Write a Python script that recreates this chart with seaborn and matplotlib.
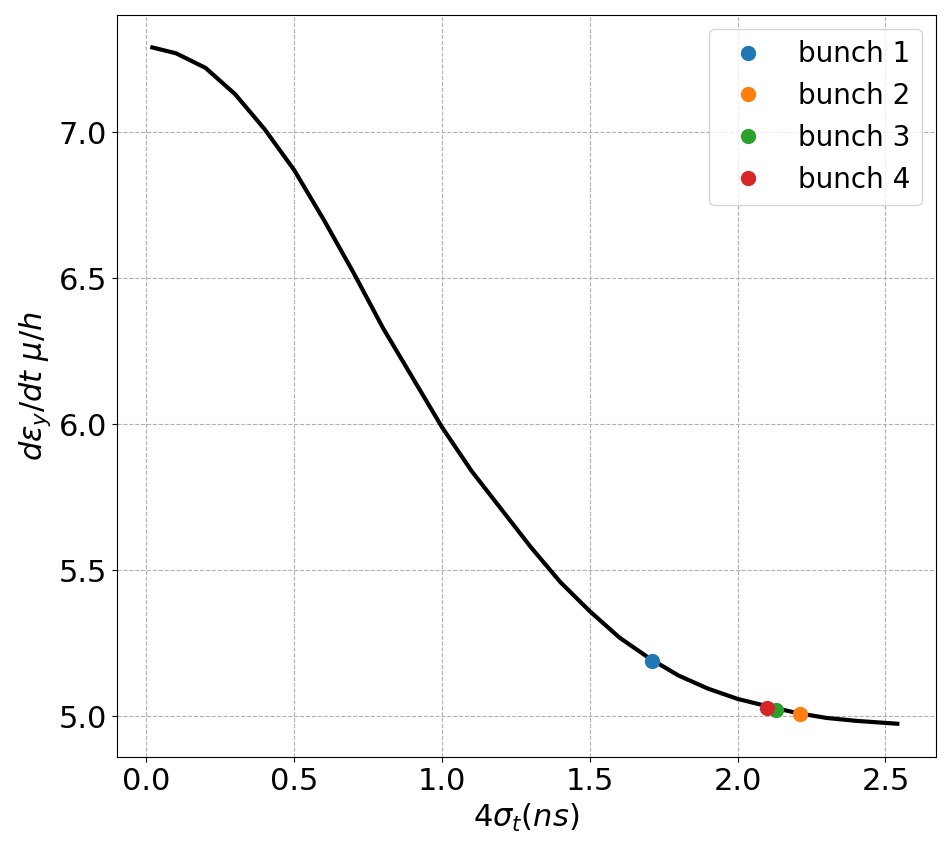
import matplotlib
matplotlib.use("Agg")
import matplotlib.pyplot as plt
import numpy as np
import pandas as pd
import seaborn as sns

# Curve
curve_x = [0.02, 0.1, 0.2, 0.3, 0.4, 0.5, 0.6, 0.7, 0.8, 0.9, 1.0, 1.1, 1.2,
           1.3, 1.4, 1.5, 1.6, 1.7, 1.8, 1.9, 2.0, 2.1, 2.2, 2.3, 2.4, 2.54]
curve_y = [7.29, 7.27, 7.22, 7.13, 7.01, 6.87, 6.70, 6.52, 6.33, 6.16, 5.99,
           5.84, 5.71, 5.58, 5.46, 5.36, 5.27, 5.20, 5.14, 5.095, 5.06, 5.035,
           5.012, 4.995, 4.985, 4.975]

bunch_names = ["bunch 1", "bunch 2", "bunch 3", "bunch 4"]
bunch_x = [1.71, 2.21, 2.13, 2.10]
bunch_y = [5.19, 5.01, 5.023, 5.03]
bunch_colors = ["#1f77b4", "#ff7f0e", "#2ca02c", "#d62728"]

fig, ax = plt.subplots(figsize=(9.5, 8.5), dpi=100)

curve = pd.DataFrame({"x": curve_x, "y": curve_y})
sns.lineplot(data=curve, x="x", y="y", color="black", linewidth=3, sort=False, ax=ax)

for name, bx, by, c in zip(bunch_names, bunch_x, bunch_y, bunch_colors):
    ax.plot([bx], [by], "o", color=c, markersize=10, label=name, zorder=5)

ax.set_xlim(-0.1, 2.67)
ax.set_ylim(4.86, 7.4)
ax.set_xticks([0.0, 0.5, 1.0, 1.5, 2.0, 2.5])
ax.set_yticks([5.0, 5.5, 6.0, 6.5, 7.0])
ax.tick_params(labelsize=22)
ax.set_xlabel(r"$4\sigma_t(ns)$", fontsize=22)
ax.set_ylabel(r"$d\epsilon_y/dt\ \mu/h$", fontsize=22)
ax.grid(True, linestyle="--", color="#b0b0b0")
ax.legend(fontsize=20, loc="upper right")

plt.subplots_adjust(left=0.123, right=0.985, top=0.982, bottom=0.109)
plt.savefig("out.png", dpi=100)
plt.close()
